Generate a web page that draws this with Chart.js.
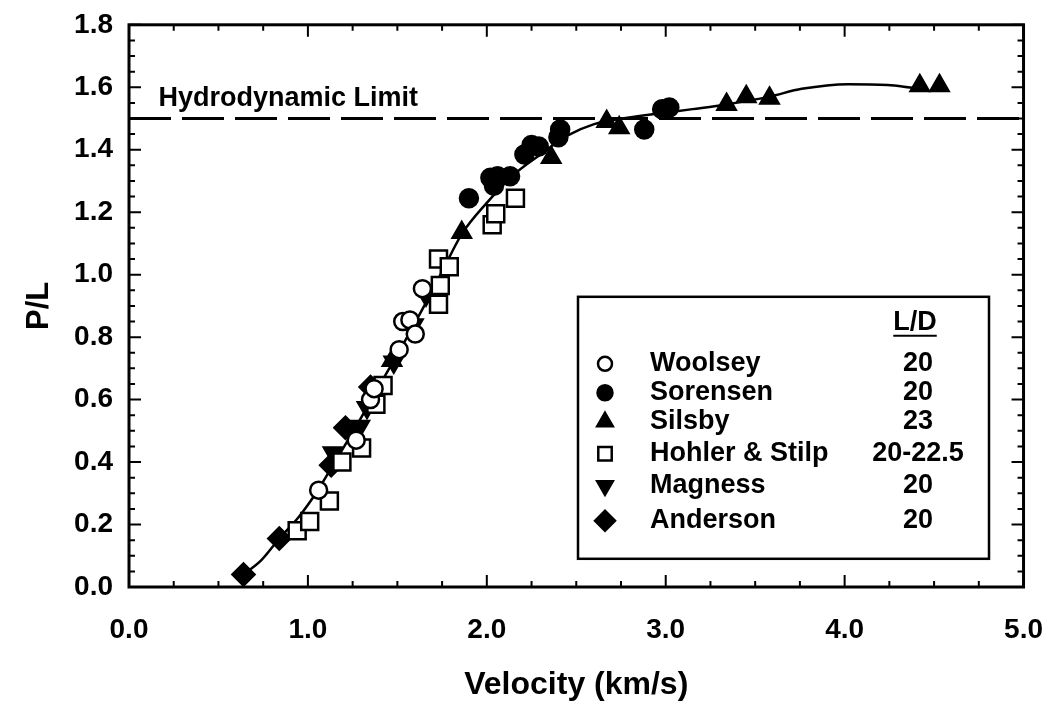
<!DOCTYPE html>
<html>
<head>
<meta charset="utf-8">
<script src="https://cdn.jsdelivr.net/npm/chart.js@4.4.1/dist/chart.umd.min.js"></script>
<style>
  html, body { margin: 0; padding: 0; background: #fff; }
</style>
</head>
<body>
<canvas id="chart" width="1061" height="709"></canvas>
<script>
// values: velocity (km/s) and P/L
const woolseyV  = [1.06, 1.27, 1.35, 1.37, 1.51, 1.53, 1.57, 1.60, 1.64];
const woolseyPL = [0.31, 0.47, 0.60, 0.635, 0.76, 0.85, 0.855, 0.81, 0.955];

const sorensenV  = [1.90, 2.02, 2.04, 2.06, 2.13, 2.21, 2.25, 2.29, 2.40, 2.41, 2.88, 2.98, 3.02];
const sorensenPL = [1.245, 1.31, 1.285, 1.315, 1.315, 1.385, 1.415, 1.41, 1.44, 1.465, 1.465, 1.53, 1.535];

const silsbyV  = [1.47, 1.86, 2.36, 2.67, 2.74, 3.34, 3.45, 3.58, 4.42, 4.53];
const silsbyPL = [0.725, 1.135, 1.375, 1.49, 1.47, 1.545, 1.57, 1.565, 1.605, 1.605];

const hohlerV  = [0.94, 1.01, 1.12, 1.19, 1.30, 1.38, 1.42, 1.73, 1.74, 1.73, 1.79, 2.03, 2.05, 2.16];
const hohlerPL = [0.18, 0.21, 0.275, 0.40, 0.445, 0.585, 0.645, 0.905, 0.965, 1.05, 1.025, 1.16, 1.195, 1.245];

const magnessV  = [1.14, 1.29, 1.33, 1.48, 1.59, 1.66];
const magnessPL = [0.43, 0.515, 0.575, 0.72, 0.84, 0.935];

const andersonV  = [0.64, 0.84, 1.13, 1.21, 1.35];
const andersonPL = [0.04, 0.155, 0.39, 0.51, 0.64];

// hand-drawn fit through the data
const fitV  = [0.64, 0.74, 0.84, 0.95, 1.05, 1.15, 1.25, 1.35, 1.45, 1.55, 1.65, 1.75, 1.86, 2.00, 2.15, 2.30, 2.45, 2.60, 2.76, 2.95, 3.15, 3.34, 3.58, 3.76, 4.02, 4.24, 4.39, 4.45];
const fitPL = [0.04, 0.086, 0.155, 0.225, 0.305, 0.40, 0.495, 0.595, 0.695, 0.795, 0.90, 1.01, 1.13, 1.23, 1.32, 1.385, 1.445, 1.482, 1.50, 1.515, 1.53, 1.545, 1.57, 1.595, 1.61, 1.607, 1.598, 1.595];

const hydroLimit = 1.5;
const hydroLabel = 'Hydrodynamic Limit';

const seriesNames = ['Woolsey', 'Sorensen', 'Silsby', 'Hohler & Stilp', 'Magness', 'Anderson'];
const seriesLD = ['20', '20', '23', '20-22.5', '20', '20'];

const FONT = '"Liberation Sans", Arial, Helvetica, sans-serif';

const pts = (xs, ys) => xs.map((v, i) => ({ x: v, y: ys[i] }));

// marker look for each series (same order as seriesNames)
const markers = [
  { style: 'circle',   rot: 0,   r: 8.5,  fill: '#fff', lr: 7 },
  { style: 'circle',   rot: 0,   r: 9,    fill: '#000', lr: 7.5 },
  { style: 'triangle', rot: 0,   r: 10.5, fill: '#000', lr: 9 },
  { style: 'rect',     rot: 0,   r: 12,   fill: '#fff', lr: 9.5 },
  { style: 'triangle', rot: 180, r: 10.5, fill: '#000', lr: 9 },
  { style: 'rectRot',  rot: 0,   r: 11,   fill: '#000', lr: 10 }
];

const seriesData = [
  pts(woolseyV, woolseyPL),
  pts(sorensenV, sorensenPL),
  pts(silsbyV, silsbyPL),
  pts(hohlerV, hohlerPL),
  pts(magnessV, magnessPL),
  pts(andersonV, andersonPL)
];

const datasets = seriesData.map((d, i) => ({
  label: seriesNames[i],
  data: d,
  pointStyle: markers[i].style,
  rotation: markers[i].rot,
  pointRadius: markers[i].r,
  pointBackgroundColor: markers[i].fill,
  pointBorderColor: '#000',
  pointBorderWidth: 2.5,
  order: i
}));

datasets.push({
  type: 'line',
  label: 'fit',
  data: pts(fitV, fitPL),
  borderColor: '#000',
  borderWidth: 2.5,
  pointRadius: 0,
  cubicInterpolationMode: 'monotone',
  order: 10
});
datasets.push({
  type: 'line',
  label: 'limit',
  data: [{ x: 0, y: hydroLimit }, { x: 5, y: hydroLimit }],
  borderColor: '#000',
  borderWidth: 3,
  borderDash: [42, 11],
  pointRadius: 0,
  order: 11
});

// inward ticks on all four sides + frame
const frameTicks = {
  id: 'frameTicks',
  afterDatasetsDraw(chart) {
    const { ctx, chartArea: a, scales: { x, y } } = chart;
    ctx.save();
    ctx.strokeStyle = '#000';
    ctx.lineWidth = 2;
    ctx.beginPath();
    for (let i = 0; i <= 20; i++) {
      const px = x.getPixelForValue(i * 0.25);
      const len = i % 4 === 0 ? 12 : 6;
      ctx.moveTo(px, a.bottom); ctx.lineTo(px, a.bottom - len);
      ctx.moveTo(px, a.top); ctx.lineTo(px, a.top + len);
    }
    for (let i = 0; i <= 36; i++) {
      const py = y.getPixelForValue(i * 0.05);
      const len = i % 4 === 0 ? 12 : 6;
      ctx.moveTo(a.left, py); ctx.lineTo(a.left + len, py);
      ctx.moveTo(a.right, py); ctx.lineTo(a.right - len, py);
    }
    ctx.stroke();
    ctx.lineWidth = 3;
    ctx.strokeRect(a.left, a.top, a.right - a.left, a.bottom - a.top);

    // label over the dashed line
    ctx.fillStyle = '#000';
    ctx.font = 'bold 27px ' + FONT;
    ctx.textAlign = 'left';
    ctx.textBaseline = 'alphabetic';
    ctx.fillText(hydroLabel, x.getPixelForValue(0.165), y.getPixelForValue(1.54));
    ctx.restore();
  }
};

// boxed key with L/D column
const keyBox = {
  id: 'keyBox',
  afterDraw(chart) {
    const { ctx, chartArea: a } = chart;
    const left = a.left + 449, top = a.top + 272, w = 411, h = 262;
    ctx.save();
    ctx.fillStyle = '#fff';
    ctx.fillRect(left, top, w, h);
    ctx.strokeStyle = '#000';
    ctx.lineWidth = 2.5;
    ctx.strokeRect(left, top, w, h);

    ctx.fillStyle = '#000';
    ctx.font = 'bold 27px ' + FONT;
    ctx.textBaseline = 'middle';
    ctx.textAlign = 'center';
    const ldX = left + 340;
    ctx.fillText('L/D', ldX - 3, top + 26);
    const uw = ctx.measureText('L/D').width;
    ctx.lineWidth = 2;
    ctx.beginPath();
    ctx.moveTo(ldX - 3 - uw / 2, top + 39);
    ctx.lineTo(ldX - 3 + uw / 2, top + 39);
    ctx.stroke();

    const rowY = [67, 96, 125, 157, 189, 224];
    seriesNames.forEach((name, i) => {
      const ry = top + rowY[i];
      const m = markers[i];
      ctx.fillStyle = m.fill;
      ctx.strokeStyle = '#000';
      ctx.lineWidth = 2.5;
      Chart.helpers.drawPoint(ctx, { pointStyle: m.style, rotation: m.rot, radius: m.lr, borderWidth: 2.5 }, left + 27, ry);
      ctx.fillStyle = '#000';
      ctx.textAlign = 'left';
      ctx.fillText(name, left + 72, ry);
      ctx.textAlign = 'center';
      ctx.fillText(seriesLD[i], ldX, ry);
    });
    ctx.restore();
  }
};

new Chart(document.getElementById('chart'), {
  type: 'scatter',
  data: { datasets: datasets },
  options: {
    responsive: false,
    animation: false,
    layout: { padding: { top: 21, right: 31, left: 0, bottom: 0 } },
    plugins: {
      legend: { display: false },
      tooltip: { enabled: false }
    },
    scales: {
      x: {
        type: 'linear',
        min: 0,
        max: 5,
        grid: { display: false },
        border: { display: false },
        ticks: {
          stepSize: 1,
          autoSkip: false,
          maxRotation: 0,
          padding: 18,
          color: '#000',
          font: { family: FONT, size: 28, weight: 'bold' },
          callback: v => Number(v).toFixed(1)
        },
        title: {
          display: true,
          text: 'Velocity (km/s)',
          color: '#000',
          font: { family: FONT, size: 32, weight: 'bold' },
          padding: { top: 0, bottom: 5 }
        },
        afterFit: s => { s.height = 122; }
      },
      y: {
        type: 'linear',
        min: 0,
        max: 1.8,
        grid: { display: false },
        border: { display: false },
        ticks: {
          stepSize: 0.2,
          autoSkip: false,
          padding: 8,
          color: '#000',
          font: { family: FONT, size: 28, weight: 'bold' },
          callback: v => Number(v).toFixed(1)
        },
        title: {
          display: true,
          text: 'P/L',
          color: '#000',
          font: { family: FONT, size: 31, weight: 'bold' },
          padding: { top: 21, bottom: 0 }
        },
        afterFit: s => { s.width = 129; }
      }
    }
  },
  plugins: [frameTicks, keyBox]
});
</script>
</body>
</html>
